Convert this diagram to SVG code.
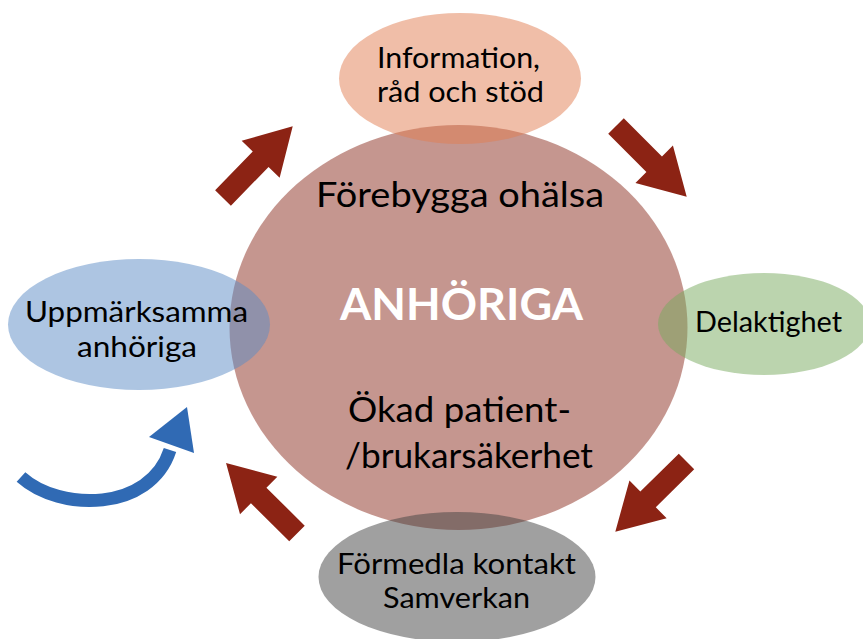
<svg xmlns="http://www.w3.org/2000/svg" xmlns:xlink="http://www.w3.org/1999/xlink" width="863" height="639" viewBox="0 0 863 639">
<style>
.lbl{font-family:Lato,"Liberation Sans",sans-serif;font-size:29px;fill:#000;text-anchor:middle}
.big{font-family:Lato,"Liberation Sans",sans-serif;font-size:34px;fill:#000;text-anchor:middle}
.title{font-family:Lato,"Liberation Sans",sans-serif;font-size:44px;font-weight:bold;fill:#fff;text-anchor:middle}
.arr{fill:#8c2314}
.ell{opacity:0.5}
</style>
<defs>
<path id="blk" d="M0,-11 H54 V-26.5 L100,0 L54,26.5 V11 H0 Z"/>
</defs>
<rect width="863" height="639" fill="#fff"/>
<g id="center">
<ellipse cx="458.5" cy="327.5" rx="229" ry="202.5" fill="#8c2d20" opacity="0.5"/>
</g>
<g id="info">
<ellipse class="ell" cx="460" cy="78.5" rx="121" ry="65.5" fill="#e17d51"/>
<text class="lbl" x="458.5" y="67.7" textLength="163" lengthAdjust="spacingAndGlyphs">Information,</text>
<text class="lbl" x="460.5" y="101.7" textLength="167" lengthAdjust="spacingAndGlyphs">råd och stöd</text>
</g>
<g id="delaktighet">
<ellipse class="ell" cx="764" cy="324" rx="106" ry="51" fill="#77a95d"/>
<text class="lbl" x="768.5" y="331.7" textLength="147" lengthAdjust="spacingAndGlyphs">Delaktighet</text>
</g>
<g id="formedla">
<ellipse class="ell" cx="457" cy="577" rx="138.5" ry="65" fill="#414141"/>
<text class="lbl" x="456.5" y="574" textLength="239" lengthAdjust="spacingAndGlyphs">Förmedla kontakt</text>
<text class="lbl" x="456.5" y="608.3" textLength="147" lengthAdjust="spacingAndGlyphs">Samverkan</text>
</g>
<g id="uppmarksamma">
<ellipse class="ell" cx="139" cy="324.5" rx="131" ry="65.5" fill="#5b8bc5"/>
<text class="lbl" x="136.5" y="321.7" textLength="223" lengthAdjust="spacingAndGlyphs">Uppmärksamma</text>
<text class="lbl" x="137" y="357" textLength="120" lengthAdjust="spacingAndGlyphs">anhöriga</text>
</g>
<g id="center-text">
<text class="big" x="460" y="207" textLength="288" lengthAdjust="spacingAndGlyphs">Förebygga ohälsa</text>
<text class="title" x="461.5" y="320" textLength="243" lengthAdjust="spacingAndGlyphs">ANHÖRIGA</text>
<text class="big" x="459.5" y="421.7" textLength="223" lengthAdjust="spacingAndGlyphs">Ökad patient-</text>
<text class="big" x="469" y="468" textLength="248" lengthAdjust="spacingAndGlyphs">/brukarsäkerhet</text>
</g>
<g id="connectors">
<use xlink:href="#blk" href="#blk" class="arr" transform="translate(223,198) rotate(-45.8)"/>
<use xlink:href="#blk" href="#blk" class="arr" transform="translate(616,126) rotate(45)"/>
<use xlink:href="#blk" href="#blk" class="arr" transform="translate(686.5,461.5) rotate(135.4)"/>
<use xlink:href="#blk" href="#blk" class="arr" transform="translate(297,533.5) rotate(-135.2)"/>
<path d="M21,477 C60,512 150,512 170,450" fill="none" stroke="#306ab4" stroke-width="13"/>
<polygon points="149,437 187,407 194,453" fill="#306ab4"/>
</g>
</svg>
